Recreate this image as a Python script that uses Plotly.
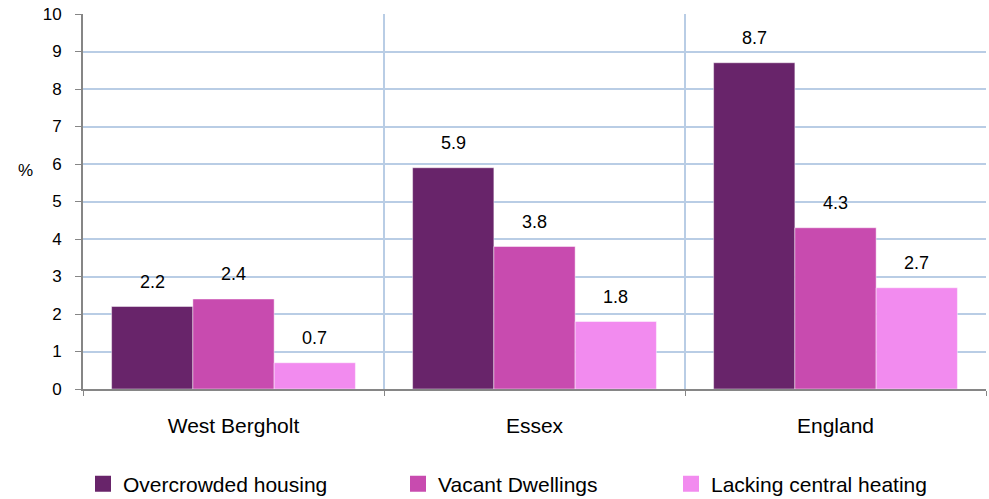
import plotly.graph_objects as go

areas = ["West Bergholt", "Essex", "England"]
overcrowded = [2.2, 5.9, 8.7]
vacant = [2.4, 3.8, 4.3]
no_heating = [0.7, 1.8, 2.7]
series_names = ["Overcrowded housing", "Vacant Dwellings", "Lacking central heating"]
series_colors = ["#68246A", "#C84BAF", "#F28BEF"]
y_ticks = list(range(0, 11))

FONT = "Liberation Sans, Arial, sans-serif"
W, H = 989, 499

fig = go.Figure()
legend_ids = ["legend", "legend2", "legend3"]
for name, vals, col, lg in zip(series_names, [overcrowded, vacant, no_heating], series_colors, legend_ids):
    fig.add_bar(
        x=areas, y=vals, name=name, legendgroup=name, showlegend=False,
        marker=dict(color=col, line=dict(color="rgba(255,255,255,0.45)", width=1)),
    )
    # square swatch for the legend entry
    fig.add_scatter(
        x=[None], y=[None], mode="markers", name=name, legendgroup=name, legend=lg,
        marker=dict(symbol="square", size=16, color=col),
    )

# value labels floating above each bar
for i, vals in enumerate([overcrowded, vacant, no_heating]):
    for j, v in enumerate(vals):
        fig.add_annotation(
            x=j, y=v, xref="x", yref="y",
            text=f"{v:.1f}", showarrow=False,
            xshift=(i - 1) * 81, yshift=13, yanchor="bottom",
            font=dict(family=FONT, size=18, color="#000000"),
        )

fig.add_annotation(
    x=-58 / 903, y=(389 - 170) / 375, xref="paper", yref="paper", text="%",
    showarrow=False, xanchor="center", yanchor="middle",
    font=dict(family=FONT, size=17, color="#000000"),
)

legend_common = dict(
    orientation="h", xref="container", yref="container", xanchor="left", yanchor="middle",
    y=1 - 484 / H, font=dict(family=FONT, size=21, color="#000000"),
    bgcolor="rgba(0,0,0,0)", itemwidth=30,
)
swatch_left = [100, 415, 688]
legends = {}
for lg, sx in zip(legend_ids, swatch_left):
    legends[lg] = dict(legend_common, x=(sx - 17) / W)

fig.update_layout(
    width=W, height=H,
    margin=dict(l=83, r=3, t=14, b=110),
    paper_bgcolor="white", plot_bgcolor="white",
    barmode="group", bargap=0.19, bargroupgap=0,
    font=dict(family=FONT, size=17, color="#000000"),
    showlegend=True,
    **legends,
)
fig.update_xaxes(
    type="category", tickson="boundaries", showgrid=True, gridcolor="#B9CDE5", gridwidth=2,
    showline=True, linecolor="#868686", linewidth=2,
    ticks="outside", ticklen=5, tickcolor="#868686",
    ticklabelstandoff=17, tickfont=dict(family=FONT, size=21),
)
fig.update_yaxes(
    range=[0, 10], tickvals=y_ticks, showgrid=True, gridcolor="#B9CDE5", gridwidth=2,
    showline=True, linecolor="#868686", linewidth=2,
    ticks="outside", ticklen=6, tickcolor="#868686", zeroline=False,
    ticklabelstandoff=10, tickfont=dict(family=FONT, size=17),
)

fig.write_html("out.html")
